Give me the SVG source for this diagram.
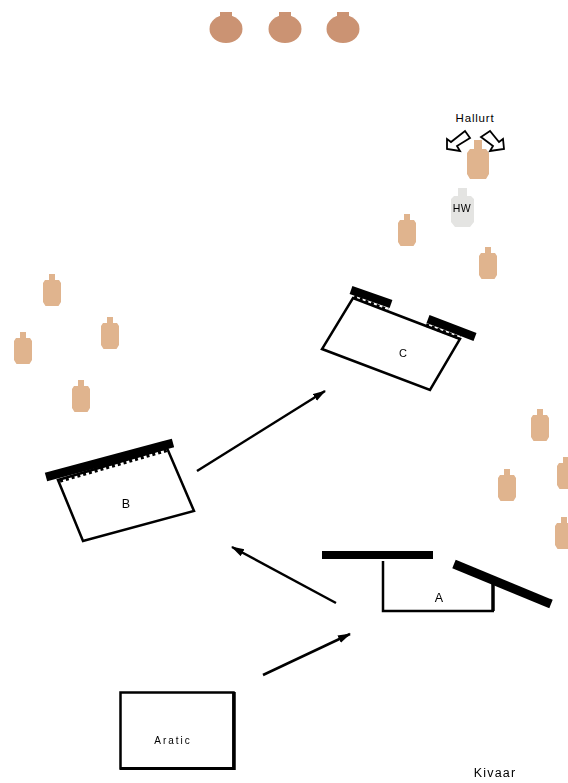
<svg xmlns="http://www.w3.org/2000/svg" width="568" height="783" viewBox="0 0 568 783">
<style>
text{font-family:"Liberation Sans",Arial,sans-serif;fill:#000;text-anchor:middle}
.room{fill:#fff;stroke:#000;stroke-width:2.500;stroke-linejoin:miter}
.wall{stroke:#000;fill:none;stroke-linecap:butt}
.fringe{stroke:#000;fill:none;stroke-width:3.500;stroke-dasharray:3 3}
.conn{stroke:#000;stroke-width:2.500;fill:none;marker-end:url(#arr)}
.hand{fill:#fff;stroke:#000;stroke-width:1.800}
.skin{fill:#e0b48e}
.pot{fill:#cb9373}
</style>
<defs>
<marker id="arr" markerUnits="userSpaceOnUse" markerWidth="14" markerHeight="10" refX="12" refY="4" orient="auto"><path d="M0 0L13 4L0 8Z" fill="#000"/></marker>
<path id="person" d="M-3 -16H3V-10H7L9 -7V12L6.500 16H-6.500L-9 12V-7L-7 -10H-3Z"/>
<g id="potshape"><rect x="-6" y="-16" width="12" height="7"/><ellipse cx="0" cy="1" rx="16.500" ry="14"/></g>
<filter id="soft" x="-20%" y="-20%" width="140%" height="140%"><feGaussianBlur stdDeviation="0.6"/></filter>
</defs>
<rect width="568" height="783" fill="#fff"/>
<g id="connectors">
<path class="conn" d="M263 675L350 634"/>
<path class="conn" d="M336 603L232 547"/>
<path class="conn" d="M197 471L325 391"/>
</g>
<g id="pots" class="pot" filter="url(#soft)">
<use href="#potshape" x="226" y="28"/>
<use href="#potshape" x="285" y="28"/>
<use href="#potshape" x="343" y="28"/>
</g>
<g id="people" class="skin" filter="url(#soft)">
<use href="#person" x="52" y="290"/>
<use href="#person" x="110" y="333"/>
<use href="#person" x="23" y="348"/>
<use href="#person" x="81" y="396"/>
<use href="#person" x="407" y="230"/>
<use href="#person" x="488" y="263"/>
<use href="#person" x="540" y="425"/>
<use href="#person" x="507" y="485"/>
<use href="#person" x="566" y="473"/>
<use href="#person" x="564" y="533"/>
</g>
<g id="presenter">
<path class="skin" filter="url(#soft)" d="M474 140H482V149H486L489 153V174L486 179H470L467 174V153L470 149H474Z"/>
<text x="475" y="122" font-size="11.500" letter-spacing="0.800">Hallurt</text>
<path class="hand" d="M465 131L470 138L457 146L460 151L447 149L447 139L451 142Z"/>
<path class="hand" d="M490 131L481 137L493 146L490 151L504 149L503 139L499 142Z"/>
</g>
<g id="hw">
<path fill="#e4e4e2" filter="url(#soft)" d="M458 188H467V196H471L474 199V222L470 227H455L451 222V199L454 196H458Z"/>
<text x="462" y="212" font-size="10.500" letter-spacing="0.500">HW</text>
</g>
<g id="room-c">
<path class="room" d="M353 298L460 339L430 390L322 349Z"/>
<path class="fringe" d="M354 297L388 310"/>
<path class="fringe" d="M426 325L460 338"/>
<path class="wall" stroke-width="8.500" d="M351 290L391 304"/>
<path class="wall" stroke-width="8.500" d="M428 319L475 337"/>
<text x="403" y="357" font-size="11">C</text>
</g>
<g id="room-b">
<path class="room" d="M58 480L167 448L194 511L83 541Z"/>
<path class="fringe" d="M60 481L168 450"/>
<path class="wall" stroke-width="9" d="M46 477L173 443"/>
<text x="126" y="508" font-size="12.500">B</text>
</g>
<g id="room-a">
<path class="wall" stroke-width="2.500" d="M383 561V611H494"/>
<path class="wall" stroke-width="3.500" d="M493 584V611"/>
<path class="wall" stroke-width="8" d="M322 555H433"/>
<path class="wall" stroke-width="9" d="M454 564L551 604"/>
<text x="439" y="602" font-size="12.500">A</text>
</g>
<g id="room-start">
<rect x="120.500" y="692.500" width="113" height="76" fill="#fff" stroke="#000" stroke-width="2.500"/>
<path class="wall" stroke-width="3.500" d="M234 692V770"/>
<path class="wall" stroke-width="3" d="M120 768.500H235"/>
<text x="173" y="744" font-size="10" letter-spacing="2">Aratic</text>
</g>
<g id="caption"><text x="495" y="777" font-size="12.500" letter-spacing="1.200">Kivaar</text></g>
</svg>
